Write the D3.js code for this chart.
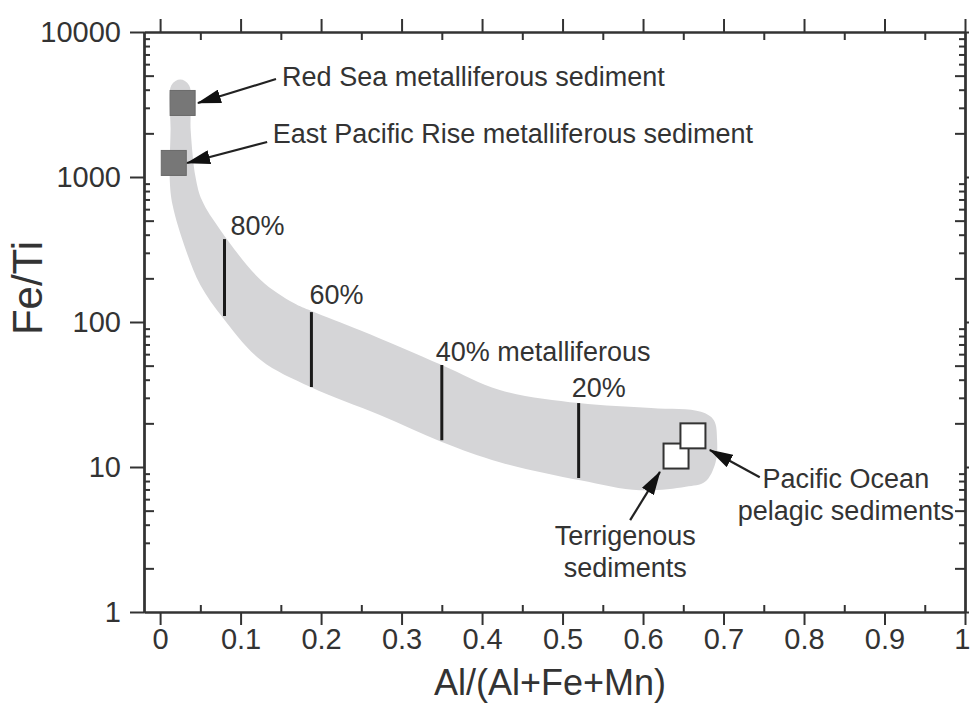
<!DOCTYPE html>
<html>
<head>
<meta charset="utf-8">
<script src="https://cdn.jsdelivr.net/npm/d3@7"></script>
<style>
  body { margin: 0; background: #fff; }
  text { font-family: "Liberation Sans", Arial, sans-serif; fill: #333; }
</style>
</head>
<body>
<div id="chart"></div>
<script>
// x ticks / y ticks
var xTicks = [0, 0.1, 0.2, 0.3, 0.4, 0.5, 0.6, 0.7, 0.8, 0.9, 1];
var xMinorTicks = [0.05, 0.15, 0.25, 0.35, 0.45, 0.55, 0.65, 0.75, 0.85, 0.95];
var yTicks = [1, 10, 100, 1000, 10000];

// mixing envelope (Al/(Al+Fe+Mn), Fe/Ti), traced clockwise
var bandX = [0.014, 0.025, 0.036, 0.038, 0.044, 0.052, 0.075, 0.125, 0.166, 0.188, 0.25, 0.35, 0.422, 0.52, 0.61, 0.672, 0.688, 0.692, 0.69, 0.677, 0.653, 0.596, 0.522, 0.422, 0.35, 0.273, 0.187, 0.125, 0.078, 0.05, 0.032, 0.0155, 0.012, 0.013];
var bandY = [4300, 4700, 4300, 2100, 1000, 690, 430, 195, 135, 119, 87, 50.5, 34, 27.6, 25.5, 24, 21, 15.3, 10.7, 7.9, 7.3, 6.9, 8.1, 10.8, 14.9, 22.8, 35.6, 54.7, 107, 180, 314, 641, 950, 2100];

// percent metalliferous tie lines
var mixLabels = ["80%", "60%", "40% metalliferous", "20%"];
var mixX = [0.08, 0.188, 0.35, 0.52];
var mixTop = [373, 117, 50.5, 27.6];
var mixBottom = [110, 35.6, 15.3, 8.4];

// end-member samples
var sampleNames = ["Red Sea", "East Pacific Rise", "Terrigenous", "Pacific Ocean"];
var sampleX = [0.028, 0.017, 0.641, 0.662];
var sampleY = [3240, 1250, 11.9, 16.4];
var sampleFill = ["#777777", "#777777", "#ffffff", "#ffffff"];

var width = 970, height = 715;
var svg = d3.select("#chart").append("svg")
  .attr("width", width).attr("height", height);

var x = d3.scaleLinear().domain([-0.02, 1.0]).range([144, 965]);
var y = d3.scaleLog().domain([1, 10000]).range([612, 32]);

var yMinor = [];
yTicks.slice(0, -1).forEach(function (d) {
  for (var k = 2; k <= 9; k++) yMinor.push(d * k);
});
var yMinorLong = yMinor.filter(function (d) {
  var m = Math.round(d / Math.pow(10, Math.floor(Math.log10(d) + 1e-9)));
  return m === 2 || m === 5;
});
var yMinorShort = yMinor.filter(function (d) { return yMinorLong.indexOf(d) < 0; });

// band
var pts = bandX.map(function (d, i) { return [x(d), y(bandY[i])]; });
svg.append("path")
  .attr("d", d3.line().curve(d3.curveCatmullRomClosed.alpha(0.5))(pts))
  .attr("fill", "#d5d5d7");

// tie lines
svg.selectAll(".mix").data(mixX).enter().append("line")
  .attr("x1", function (d) { return x(d); })
  .attr("x2", function (d) { return x(d); })
  .attr("y1", function (d, i) { return y(mixTop[i]); })
  .attr("y2", function (d, i) { return y(mixBottom[i]); })
  .attr("stroke", "#1a1a1a").attr("stroke-width", 3);

// labels for tie lines (offset from top of each line)
var mixDx = [6, -2, -6, -7];
var mixDy = [-4, -8, -4, -6];
svg.selectAll(".mixlab").data(mixLabels).enter().append("text")
  .attr("x", function (d, i) { return x(mixX[i]) + mixDx[i]; })
  .attr("y", function (d, i) { return y(mixTop[i]) + mixDy[i]; })
  .style("font-size", "27px")
  .text(function (d) { return d; });

// samples
var sq = 25;
svg.selectAll(".sample").data(sampleX).enter().append("rect")
  .attr("x", function (d) { return x(d) - sq / 2; })
  .attr("y", function (d, i) { return y(sampleY[i]) - sq / 2; })
  .attr("width", sq).attr("height", sq)
  .attr("fill", function (d, i) { return sampleFill[i]; })
  .attr("stroke", function (d, i) { return i < 2 ? "#6a6a6a" : "#333"; })
  .attr("stroke-width", function (d, i) { return i < 2 ? 1 : 2; });

// arrows
var defs = svg.append("defs");
defs.append("marker")
  .attr("id", "head")
  .attr("viewBox", "0 0 24 14")
  .attr("refX", 23).attr("refY", 7)
  .attr("markerWidth", 24).attr("markerHeight", 14)
  .attr("markerUnits", "userSpaceOnUse")
  .attr("orient", "auto")
  .append("path").attr("d", "M0,0 L24,7 L0,14 Z").attr("fill", "#111");

var arrowFrom = [[0.144, 4740], [0.133, 1742], [0.584, 4.3], [0.745, 8.5]];
var arrowTo = [[0.047, 3236], [0.0335, 1250], [0.621, 9.25], [0.683, 13.1]];
svg.selectAll(".arrow").data(arrowFrom).enter().append("line")
  .attr("x1", function (d) { return x(d[0]); })
  .attr("y1", function (d) { return y(d[1]); })
  .attr("x2", function (d, i) { return x(arrowTo[i][0]); })
  .attr("y2", function (d, i) { return y(arrowTo[i][1]); })
  .attr("stroke", "#222").attr("stroke-width", 2.2)
  .attr("marker-end", "url(#head)");

// annotation text
svg.append("text").attr("x", x(0.1516)).attr("y", y(4250))
  .style("font-size", "27px").text("Red Sea metalliferous sediment");
svg.append("text").attr("x", x(0.140)).attr("y", y(1715))
  .style("font-size", "27px").text("East Pacific Rise metalliferous sediment");

var pac = svg.append("text").attr("text-anchor", "middle").style("font-size", "27px");
pac.append("tspan").attr("x", x(0.852)).attr("y", y(7.16)).text("Pacific Ocean");
pac.append("tspan").attr("x", x(0.852)).attr("dy", 32).text("pelagic sediments");

var ter = svg.append("text").attr("text-anchor", "middle").style("font-size", "27px");
ter.append("tspan").attr("x", x(0.578)).attr("y", y(2.9)).text("Terrigenous");
ter.append("tspan").attr("x", x(0.578)).attr("dy", 32).text("sediments");

// axes
function styleAxis(g) {
  g.selectAll(".domain").attr("stroke", "#333").attr("stroke-width", 2);
  g.selectAll(".tick line").attr("stroke", "#333").attr("stroke-width", 2);
  g.selectAll(".tick text").style("font-size", "29px")
    .style("font-family", "'Liberation Sans', Arial, sans-serif").attr("fill", "#333");
}

svg.append("g").attr("transform", "translate(0,612)")
  .call(d3.axisBottom(x).tickValues(xTicks).tickSize(13).tickSizeOuter(0).tickPadding(3).tickFormat(d3.format("~g")))
  .call(styleAxis)
  .call(function (g) {
    // last label sits on the page edge, keep it inside
    g.selectAll(".tick text").filter(function (d) { return d === 1; })
      .attr("text-anchor", "end").attr("dx", 5);
  });
svg.append("g").attr("transform", "translate(0,612)")
  .call(d3.axisBottom(x).tickValues(xMinorTicks).tickSize(-7).tickSizeOuter(0).tickFormat(""))
  .call(styleAxis);
svg.append("g").attr("transform", "translate(0,32)")
  .call(d3.axisTop(x).tickValues(xTicks).tickSize(13).tickSizeOuter(0).tickFormat(""))
  .call(styleAxis);
svg.append("g").attr("transform", "translate(0,32)")
  .call(d3.axisTop(x).tickValues(xMinorTicks).tickSize(-8).tickSizeOuter(0).tickFormat(""))
  .call(styleAxis);

svg.append("g").attr("transform", "translate(144,0)")
  .call(d3.axisLeft(y).tickValues(yTicks).tickSize(14).tickSizeOuter(0).tickPadding(9).tickFormat(d3.format("d")))
  .call(styleAxis);
svg.append("g").attr("transform", "translate(144,0)")
  .call(d3.axisLeft(y).tickValues(yMinorShort).tickSize(-6).tickSizeOuter(0).tickFormat(""))
  .call(styleAxis);
svg.append("g").attr("transform", "translate(144,0)")
  .call(d3.axisLeft(y).tickValues(yMinorLong).tickSize(-10).tickSizeOuter(0).tickFormat(""))
  .call(styleAxis);

svg.append("g").attr("transform", "translate(965,0)")
  .call(d3.axisRight(y).tickValues(yTicks).tickSize(4).tickSizeOuter(0).tickFormat(""))
  .call(styleAxis);
svg.append("g").attr("transform", "translate(965,0)")
  .call(d3.axisRight(y).tickValues(yMinorShort).tickSize(-6).tickSizeOuter(0).tickFormat(""))
  .call(styleAxis);
svg.append("g").attr("transform", "translate(965,0)")
  .call(d3.axisRight(y).tickValues(yMinorLong).tickSize(-10).tickSizeOuter(0).tickFormat(""))
  .call(styleAxis);

// axis titles
svg.append("text")
  .attr("text-anchor", "middle")
  .attr("x", 550).attr("y", 695)
  .style("font-size", "36px")
  .text("Al/(Al+Fe+Mn)");
svg.append("text")
  .attr("text-anchor", "middle")
  .attr("transform", "translate(42,288)rotate(-90)")
  .style("font-size", "42px")
  .text("Fe/Ti");
</script>
</body>
</html>
